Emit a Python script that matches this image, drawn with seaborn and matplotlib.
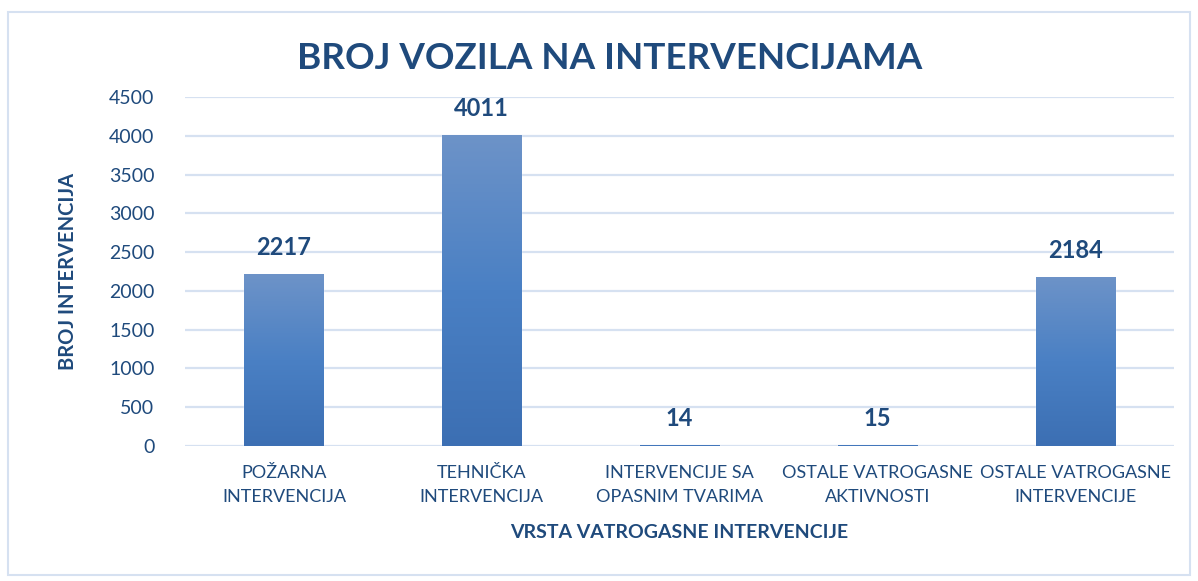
import numpy as np
import pandas as pd
import seaborn as sns
import matplotlib.pyplot as plt
from matplotlib.colors import LinearSegmentedColormap
from matplotlib.patches import Rectangle

categories = ['POŽARNA\nINTERVENCIJA', 'TEHNIČKA\nINTERVENCIJA', 'INTERVENCIJE SA\nOPASNIM TVARIMA',
              'OSTALE VATROGASNE\nAKTIVNOSTI', 'OSTALE VATROGASNE\nINTERVENCIJE']
values = [2217, 4011, 14, 15, 2184]

df = pd.DataFrame({'vrsta': categories, 'broj': values})

sns.set_style('white')
plt.rcParams['font.family'] = ['Lato', 'DejaVu Sans']
navy = '#1F4A7C'

fig = plt.figure(figsize=(11.98, 5.81), dpi=100)
ax = fig.add_axes([0.1544, 0.2324, 0.8256, 0.6006])

sns.barplot(data=df, x='vrsta', y='broj', color='#4A7EC0', width=0.4, ax=ax, zorder=2)

# gradient fill, lighter at the top
cmap = LinearSegmentedColormap.from_list('g', ['#3C6FB3', '#4A80C4', '#6D93C8'])
grad = np.linspace(0, 1, 256).reshape(-1, 1)
for bar in ax.patches:
    x0, y0 = bar.get_x(), bar.get_y()
    w, h = bar.get_width(), bar.get_height()
    im = ax.imshow(grad, cmap=cmap, aspect='auto', origin='lower',
                   extent=[x0, x0 + w, y0, y0 + max(h, 1)], zorder=3)
    im.set_clip_path(bar)
    ax.text(x0 + w / 2, h + 190, f'{int(h)}', ha='center', va='bottom',
            fontsize=17, fontweight='bold', color=navy)

ax.set_xlim(-0.5, 4.5)
ax.set_ylim(0, 4500)
ax.set_yticks(range(0, 4501, 500))
ax.yaxis.grid(True, color='#D6E1F1', linewidth=1.6, zorder=0)
ax.set_axisbelow(True)
sns.despine(ax=ax, left=True, bottom=True, top=True, right=True)
ax.tick_params(axis='y', length=0, pad=22, labelsize=14, labelcolor=navy)
ax.tick_params(axis='x', length=0, pad=14, labelsize=13, labelcolor=navy)
for lbl in ax.get_xticklabels():
    lbl.set_linespacing(1.55)

ax.set_xlabel('VRSTA VATROGASNE INTERVENCIJE', fontsize=14, fontweight='bold', color=navy, labelpad=14)
ax.set_ylabel('BROJ INTERVENCIJA', fontsize=14.5, fontweight='bold', color=navy, labelpad=22)

fig.text(0.509, 0.90, 'BROJ VOZILA NA INTERVENCIJAMA', ha='center', va='center',
         fontsize=26.5, fontweight='bold', color=navy)

fig.patches.append(Rectangle((0.007, 0.01), 0.986, 0.97, transform=fig.transFigure,
                             fill=False, edgecolor='#D6E1F1', linewidth=1.5))

fig.savefig('out.png', dpi=100)
